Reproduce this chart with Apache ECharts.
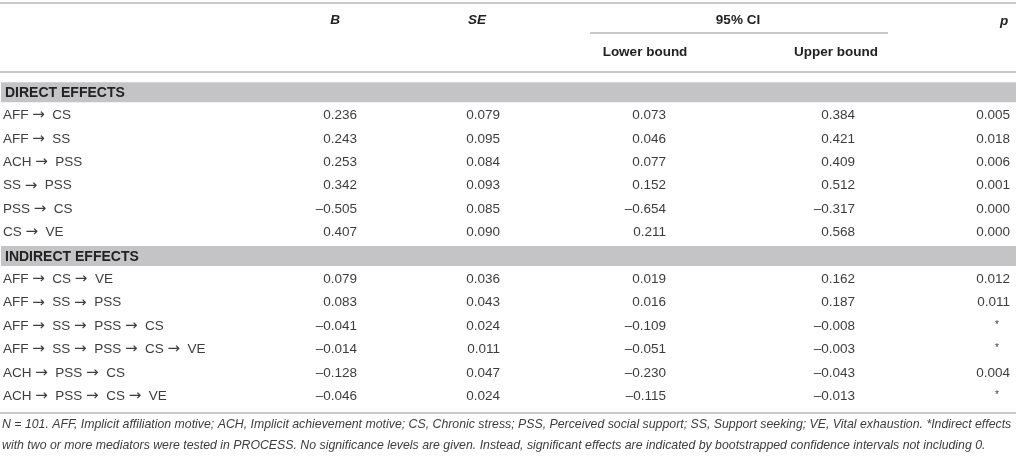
<!DOCTYPE html>
<html>
<head>
<meta charset="utf-8">
<script src="https://cdn.jsdelivr.net/npm/echarts@6/dist/echarts.min.js"></script>
<style>
  html, body { margin: 0; padding: 0; background: #fff; }
  #main { width: 1016px; height: 458px; }
</style>
</head>
<body>
<div id="main"></div>
<script>
// table content
var sections = ['DIRECT EFFECTS', 'INDIRECT EFFECTS'];

var directPaths = [['AFF', 'CS'], ['AFF', 'SS'], ['ACH', 'PSS'], ['SS', 'PSS'], ['PSS', 'CS'], ['CS', 'VE']];
var directB = [0.236, 0.243, 0.253, 0.342, -0.505, 0.407];
var directSE = [0.079, 0.095, 0.084, 0.093, 0.085, 0.090];
var directLower = [0.073, 0.046, 0.077, 0.152, -0.654, 0.211];
var directUpper = [0.384, 0.421, 0.409, 0.512, -0.317, 0.568];
var directP = [0.005, 0.018, 0.006, 0.001, 0.000, 0.000];

var indirectPaths = [
    ['AFF', 'CS', 'VE'],
    ['AFF', 'SS', 'PSS'],
    ['AFF', 'SS', 'PSS', 'CS'],
    ['AFF', 'SS', 'PSS', 'CS', 'VE'],
    ['ACH', 'PSS', 'CS'],
    ['ACH', 'PSS', 'CS', 'VE']
];
var indirectB = [0.079, 0.083, -0.041, -0.014, -0.128, -0.046];
var indirectSE = [0.036, 0.043, 0.024, 0.011, 0.047, 0.024];
var indirectLower = [0.019, 0.016, -0.109, -0.051, -0.230, -0.115];
var indirectUpper = [0.162, 0.187, -0.008, -0.003, -0.043, -0.013];
var indirectP = [0.012, 0.011, null, null, 0.004, null];   // null = '*'

var headTop = ['B', 'SE', '95% CI', 'p'];
var headSub = ['Lower bound', 'Upper bound'];

var footnote = [
    'N = 101. AFF, Implicit affiliation motive; ACH, Implicit achievement motive; CS, Chronic stress; PSS, Perceived social support; SS, Support seeking; VE, Vital exhaustion. *Indirect effects',
    'with two or more mediators were tested in PROCESS. No significance levels are given. Instead, significant effects are indicated by bootstrapped confidence intervals not including 0.'
];

// layout
var FONT = '"Liberation Sans", Arial, Helvetica, sans-serif';
var TXT = '#3d3d3d';
var RULE = '#c9c9c9';
var colRight = [357, 500, 666, 855, 1010];   // right edge of each number column (x axis units)
var starX = 997;

// build the rows
var rows = [];
var addBlock = function (title, paths, b, se, lo, up, p) {
    rows.push({ section: title });
    paths.forEach(function (path, i) {
        rows.push({ label: path, vals: [b[i], se[i], lo[i], up[i], p[i]] });
    });
};
addBlock(sections[0], directPaths, directB, directSE, directLower, directUpper, directP);
addBlock(sections[1], indirectPaths, indirectB, indirectSE, indirectLower, indirectUpper, indirectP);

var fmt = function (v) {
    return (v < 0 ? '\u2013' : '') + Math.abs(v).toFixed(3);
};

var renderRow = function (params, api) {
    var idx = api.value(1);
    var row = rows[idx];
    var y = api.coord([0, idx])[1];
    var children = [];
    if (row.section) {
        var x0 = api.coord([1, idx])[0];
        var x1 = api.coord([1016, idx])[0];
        children.push({
            type: 'rect',
            shape: { x: x0, y: y - 10, width: x1 - x0, height: 20 },
            style: { fill: '#c4c4c6' }
        });
        children.push({
            type: 'text',
            style: {
                text: row.section, x: x0 + 4, y: y + 1,
                verticalAlign: 'middle', align: 'left',
                font: 'bold 14px ' + FONT, fill: '#222'
            }
        });
        return { type: 'group', children: children };
    }
    children.push({
        type: 'text',
        style: {
            text: row.label.map(function (s) { return '{t|' + s + '}'; }).join('{t|\u00a0}{arr|\u2192}{t|\u00a0\u00a0}'),
            x: api.coord([3, idx])[0], y: y,
            verticalAlign: 'middle', align: 'left',
            font: '13.5px ' + FONT, fill: TXT,
            rich: {
                t: { font: '13.5px ' + FONT, fill: TXT, verticalAlign: 'middle' },
                arr: { font: '15px "DejaVu Sans", sans-serif', fill: TXT, verticalAlign: 'middle' }
            }
        }
    });
    row.vals.forEach(function (v, c) {
        if (v === null) {
            children.push({
                type: 'text',
                style: {
                    text: '*', x: api.coord([starX, idx])[0], y: y - 1,
                    verticalAlign: 'middle', align: 'center',
                    font: '10px ' + FONT, fill: TXT
                }
            });
            return;
        }
        children.push({
            type: 'text',
            style: {
                text: fmt(v), x: api.coord([colRight[c], idx])[0], y: y,
                verticalAlign: 'middle', align: 'right',
                font: '13.5px ' + FONT, fill: TXT
            }
        });
    });
    return { type: 'group', children: children };
};

// fit the footnote to the table width
var ctx = document.createElement('canvas').getContext('2d');
ctx.font = 'italic 13px ' + FONT;
var noteSize = Math.min(13.5, 13 * 1010 / ctx.measureText(footnote[0]).width);

var hText = function (text, x, y, italic) {
    return {
        type: 'text', x: x, y: y,
        style: {
            text: text, align: 'center', verticalAlign: 'middle',
            font: (italic ? 'italic ' : '') + 'bold 13.5px ' + FONT, fill: '#222'
        }
    };
};
var rule = function (x1, x2, y) {
    return {
        type: 'line',
        shape: { x1: x1, y1: y, x2: x2, y2: y },
        style: { stroke: RULE, lineWidth: 2 }
    };
};

var myChart = echarts.init(document.getElementById('main'));

var options = {
    animation: false,
    backgroundColor: '#fff',
    grid: { left: 0, right: 0, top: 80.5, bottom: 50 },
    xAxis: { type: 'value', min: 0, max: 1016, show: false },
    yAxis: {
        type: 'category', inverse: true, show: false,
        data: rows.map(function (r, i) { return 'r' + i; })
    },
    graphic: [
        rule(0, 1016, 3),
        hText(headTop[0], 335, 20, true),
        hText(headTop[1], 477, 20, true),
        hText(headTop[2], 738, 20, false),
        hText(headTop[3], 1004, 21, true),
        rule(590, 888, 33),
        hText(headSub[0], 645, 52, false),
        hText(headSub[1], 836, 52, false),
        rule(0, 1016, 72),
        rule(0, 1016, 413),
        {
            type: 'text', x: 2, y: 425,
            style: { text: footnote[0], verticalAlign: 'middle', font: 'italic ' + noteSize + 'px ' + FONT, fill: TXT }
        },
        {
            type: 'text', x: 2, y: 446,
            style: { text: footnote[1], verticalAlign: 'middle', font: 'italic ' + noteSize + 'px ' + FONT, fill: TXT }
        }
    ],
    series: [
        {
            type: 'custom',
            renderItem: renderRow,
            encode: { x: 0, y: 1 },
            data: rows.map(function (r, i) { return [0, i]; })
        }
    ]
};

myChart.setOption(options);
</script>
</body>
</html>
